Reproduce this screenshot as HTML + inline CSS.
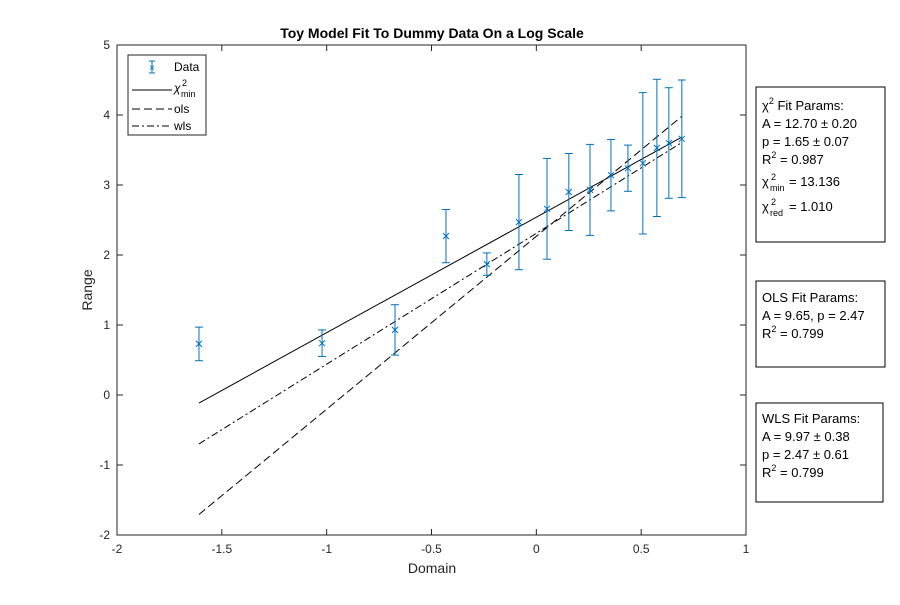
<!DOCTYPE html>
<html><head><meta charset="utf-8"><style>
body{margin:0;background:#fff;}
svg{font-family:"Liberation Sans",Arial,sans-serif;}
</style></head><body>
<svg width="900" height="600" xmlns="http://www.w3.org/2000/svg">
<rect width="900" height="600" fill="#fff"/>
<text x="432" y="38" text-anchor="middle" font-size="14" font-weight="bold">Toy Model Fit To Dummy Data On a Log Scale</text>
<rect x="117" y="45" width="629" height="490" fill="#fff" stroke="#262626" stroke-width="1"/>
<g id="ticks" font-size="12" fill="#262626"></g>
<g id="lines"></g>
<g id="points"></g>
<text x="432" y="573" text-anchor="middle" font-size="14" fill="#262626">Domain</text>
<text x="92" y="290" text-anchor="middle" font-size="14" fill="#262626" transform="rotate(-90 92 290)">Range</text>
<g>
<rect x="128" y="55" width="78" height="80" fill="#fff" stroke="#262626" stroke-width="1"/>
<g>
<line x1="152" y1="61" x2="152" y2="73" stroke="#0072BD"/><line x1="149" y1="61" x2="155" y2="61" stroke="#0072BD"/><line x1="149" y1="73" x2="155" y2="73" stroke="#0072BD"/>
<text x="152" y="71" text-anchor="middle" font-size="10" fill="#0072BD">×</text>
<text x="174" y="71" font-size="12">Data</text></g>
<g><line x1="132" y1="90" x2="172" y2="90" stroke="#000"/>
<text x="174" y="92" font-size="12" font-style="italic">χ</text><text x="182" y="86" font-size="9">2</text><text x="181" y="97" font-size="9">min</text></g>
<g><line x1="132" y1="109" x2="172" y2="109" stroke="#000" stroke-dasharray="8,4"/><text x="174" y="113" font-size="12">ols</text></g>
<g><line x1="132" y1="126" x2="172" y2="126" stroke="#000" stroke-dasharray="7,3,2,3"/><text x="174" y="130" font-size="12">wls</text></g>
</g>
<g font-size="13">
<rect x="756" y="87" width="129" height="155" fill="#fff" stroke="#000"/>
<text x="762" y="110">χ<tspan font-size="9" dy="-6">2</tspan><tspan dy="6"> Fit Params:</tspan></text>
<text x="762" y="128">A = 12.70 ± 0.20</text>
<text x="762" y="146">p = 1.65 ± 0.07</text>
<text x="762" y="164">R<tspan font-size="9" dy="-6">2</tspan><tspan dy="6"> = 0.987</tspan></text>
<text x="762" y="186">χ</text><text x="771" y="180" font-size="9">2</text><text x="770" y="191" font-size="9">min</text><text x="789" y="186">= 13.136</text>
<text x="762" y="211">χ</text><text x="771" y="205" font-size="9">2</text><text x="770" y="216" font-size="9">red</text><text x="789" y="211">= 1.010</text>
</g>
<g font-size="13">
<rect x="756" y="281" width="129" height="86" fill="#fff" stroke="#000"/>
<text x="762" y="302">OLS Fit Params:</text>
<text x="762" y="320">A = 9.65, p = 2.47</text>
<text x="762" y="338">R<tspan font-size="9" dy="-6">2</tspan><tspan dy="6"> = 0.799</tspan></text>
</g>
<g font-size="13">
<rect x="756" y="403" width="127" height="99" fill="#fff" stroke="#000"/>
<text x="762" y="423">WLS Fit Params:</text>
<text x="762" y="441">A = 9.97 ± 0.38</text>
<text x="762" y="459">p = 2.47 ± 0.61</text>
<text x="762" y="477">R<tspan font-size="9" dy="-6">2</tspan><tspan dy="6"> = 0.799</tspan></text>
</g>
</svg>
<script>
const xData=[-1.609,-1.022,-0.674,-0.431,-0.236,-0.083,0.051,0.155,0.256,0.356,0.437,0.508,0.575,0.632,0.694];
const yData=[0.73,0.74,0.93,2.27,1.87,2.47,2.66,2.9,2.93,3.14,3.24,3.31,3.53,3.6,3.66];
const yErr=[0.24,0.19,0.36,0.38,0.16,0.68,0.72,0.55,0.65,0.51,0.33,1.01,0.98,0.79,0.84];
const xTicks=[-2,-1.5,-1,-0.5,0,0.5,1];
const yTicks=[-2,-1,0,1,2,3,4,5];
const fitIntercepts=[2.54,2.267,2.31];
const fitSlopes=[1.65,2.47,1.87];
const fitNames=['chi2-fit-line','ols-fit-line','wls-fit-line'];
const fitDash=['none','8,4','7,3,2,3'];
const sx=v=>117+(v+2)*629/3, sy=v=>395-v*70;
const NS='http://www.w3.org/2000/svg';
function mk(t,a,p){const e=document.createElementNS(NS,t);for(const k in a)e.setAttribute(k,a[k]);p.appendChild(e);return e;}
const tg=document.getElementById('ticks');
xTicks.forEach(v=>{const x=sx(v);
mk('line',{x1:x,y1:535,x2:x,y2:529,stroke:'#262626'},tg);mk('line',{x1:x,y1:45,x2:x,y2:51,stroke:'#262626'},tg);
const t=mk('text',{x:x,y:553,'text-anchor':'middle'},tg);t.textContent=v;

});
yTicks.forEach(v=>{const y=sy(v);
mk('line',{x1:117,y1:y,x2:123,y2:y,stroke:'#262626'},tg);mk('line',{x1:746,y1:y,x2:740,y2:y,stroke:'#262626'},tg);
const t=mk('text',{x:110,y:y+4,'text-anchor':'end'},tg);t.textContent=v;

});
const lg=document.getElementById('lines');
const x0=Math.min(...xData),x1=Math.max(...xData);
fitSlopes.forEach((s,i)=>{const b=fitIntercepts[i];
const l=mk('line',{x1:sx(x0),y1:sy(b+s*x0),x2:sx(x1),y2:sy(b+s*x1),stroke:'#000','stroke-width':1,'stroke-dasharray':fitDash[i]},lg);

});
const pg=document.getElementById('points');
xData.forEach((xv,i)=>{const x=sx(xv),y=sy(yData[i]),t=sy(yData[i]+yErr[i]),b=sy(yData[i]-yErr[i]);
const g=mk('g',{stroke:'#0072BD','stroke-width':1},pg);


mk('line',{x1:x,y1:t,x2:x,y2:b},g);mk('line',{x1:x-4,y1:t,x2:x+4,y2:t},g);mk('line',{x1:x-4,y1:b,x2:x+4,y2:b},g);
mk('line',{x1:x-3,y1:y-3,x2:x+3,y2:y+3},g);mk('line',{x1:x-3,y1:y+3,x2:x+3,y2:y-3},g);});
</script>
</body></html>
